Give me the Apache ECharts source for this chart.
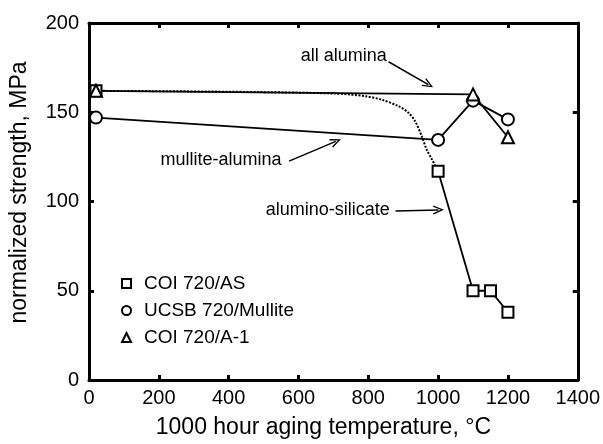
<!DOCTYPE html>
<html><head><meta charset="utf-8">
<script src="https://cdn.jsdelivr.net/npm/echarts@6/dist/echarts.min.js"></script>
<style>html,body{margin:0;padding:0;background:#fff}#c{width:603px;height:444px}</style>
</head><body><div id="c"></div>
<script>
// ---- data ----
var xTicks = [0, 200, 400, 600, 800, 1000, 1200, 1400];
var yTicks = [0, 50, 100, 150, 200];
var seriesNames = ['COI 720/AS', 'UCSB 720/Mullite', 'COI 720/A-1'];
var asPoints = [[20, 162], [1000, 117], [1100, 50], [1150, 50], [1200, 38]];
var mullitePoints = [[20, 147], [1000, 134.5], [1100, 156.5], [1200, 146]];
var a1Points = [[20, 162], [1100, 160], [1200, 136]];
var asCurve = [[20, 162], [400, 161.5], [700, 160.5], [792, 159], [839, 157], [887, 153.4], [915, 149.7], [934, 145], [953, 136.7], [967, 129.2], [982, 123.7], [1000, 117]];
var asSolid = [[1000, 117], [1100, 50], [1150, 50], [1200, 38]];
var annoText = ['all alumina', 'mullite-alumina', 'alumino-silicate'];
var annoTextPos = [[730, 181.5], [378, 123], [684, 95.3]];
var annoArrowFrom = [[858, 178.3], [573, 122.6], [878, 94.7]];
var annoArrowTo = [[972, 165.5], [707, 133.7], [1001, 95.3]];

var FONT = 'Liberation Sans, Arial, Helvetica, sans-serif';
var TXT = '#000';
var chart = echarts.init(document.getElementById('c'));
var arrowPath = 'path://M0,10 L5,0 L10,10 L8.6,10.6 L5,3 L1.4,10.6 Z';

function axisCommon(show) {
  return {
    axisLine: {show: true, onZero: false, lineStyle: {color: '#000', width: 3}},
    axisTick: {show: true, inside: true, length: 5, lineStyle: {color: '#000', width: 3}},
    splitLine: {show: false},
    axisLabel: {show: show, color: TXT, fontFamily: FONT, fontSize: 20,
      formatter: function (v) { return String(v); }}
  };
}

var xBottom = Object.assign(axisCommon(true), {
  type: 'value', position: 'bottom', min: xTicks[0], max: xTicks[xTicks.length - 1], interval: 200,
  name: '1000 hour aging temperature, °C', nameLocation: 'middle', nameGap: 36,
  nameTextStyle: {color: TXT, fontFamily: FONT, fontSize: 23, padding: [0, 20, 0, 0]}
});
xBottom.axisLabel.margin = 8;
var xTop = Object.assign(axisCommon(false), {
  type: 'value', position: 'top', min: xTicks[0], max: xTicks[xTicks.length - 1], interval: 200
});
var yLeft = Object.assign(axisCommon(true), {
  type: 'value', position: 'left', min: yTicks[0], max: yTicks[yTicks.length - 1], interval: 50,
  name: 'normalized strength, MPa', nameLocation: 'middle', nameGap: 58,
  nameTextStyle: {color: TXT, fontFamily: FONT, fontSize: 23, padding: [0, 0, 0, 18]}
});
yLeft.axisLabel.margin = 10;
var yRight = Object.assign(axisCommon(false), {
  type: 'value', position: 'right', min: yTicks[0], max: yTicks[yTicks.length - 1], interval: 50
});

var markerStyle = {color: '#fff', borderColor: '#000', borderWidth: 2, opacity: 1};
var lineStyleSolid = {color: '#000', width: 1.8};

var annoSeries = {
  type: 'scatter', silent: true, symbolSize: 0, z: 5,
  itemStyle: {opacity: 1},
  data: annoText.map(function (t, i) { return {value: annoTextPos[i], name: t}; }),
  label: {show: true, position: 'inside', formatter: '{b}', color: TXT, fontFamily: FONT, fontSize: 18},
  markLine: {
    silent: true, symbol: ['none', arrowPath], symbolSize: [9, 11],
    lineStyle: {color: '#000', width: 1.5, type: 'solid', opacity: 1},
    label: {show: false},
    data: annoArrowFrom.map(function (f, i) { return [{coord: f}, {coord: annoArrowTo[i]}]; })
  }
};

chart.setOption({
  animation: false,
  backgroundColor: '#fff',
  grid: {left: 89, right: 23, top: 23, bottom: 62, containLabel: false},
  xAxis: [xBottom, xTop],
  yAxis: [yLeft, yRight],
  legend: {
    data: seriesNames, orient: 'vertical', left: 116, top: 269, itemGap: 8,
    itemWidth: 9, itemHeight: 9, selectedMode: false,
    textStyle: {color: TXT, fontFamily: FONT, fontSize: 19, padding: [0, 0, 0, 8]}
  },
  series: [
    {type: 'line', data: asCurve, smooth: 0.3, showSymbol: false, symbol: 'none', lineStyle: {color: '#000', width: 2, type: [2, 1.5]}, z: 2, silent: true},
    {type: 'line', data: asSolid, showSymbol: false, symbol: 'none', lineStyle: lineStyleSolid, z: 2, silent: true},
    {type: 'line', data: mullitePoints, showSymbol: false, symbol: 'none', lineStyle: lineStyleSolid, z: 2, silent: true},
    {type: 'line', data: a1Points, showSymbol: false, symbol: 'none', lineStyle: lineStyleSolid, z: 2, silent: true},
    {name: seriesNames[0], type: 'scatter', data: asPoints, symbol: 'rect', symbolSize: 11, itemStyle: markerStyle, z: 4},
    {name: seriesNames[1], type: 'scatter', data: mullitePoints, symbol: 'circle', symbolSize: 12, itemStyle: markerStyle, z: 4},
    {name: seriesNames[2], type: 'scatter', data: a1Points, symbol: 'triangle', symbolSize: 12, itemStyle: markerStyle, z: 4},
    annoSeries
  ]
});
</script></body></html>
